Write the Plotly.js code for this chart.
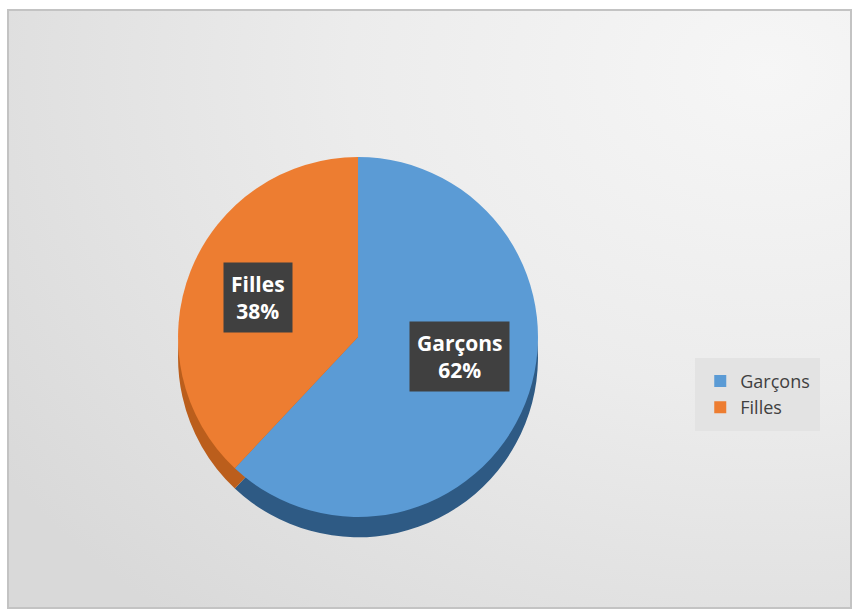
<!DOCTYPE html>
<html>
<head>
<meta charset="utf-8">
<script src="https://cdn.plot.ly/plotly-3.0.1.min.js"></script>
<style>
  html, body { margin: 0; padding: 0; background: #ffffff; width: 855px; height: 612px; overflow: hidden; }
  #frame { position: absolute; left: 7px; top: 9px; width: 841px; height: 596px;
           border: 2px solid #c3c3c3;
           background: radial-gradient(ellipse 110% 120% at 90% 10%, #f6f6f6 0%, #ececec 45%, #d9d9d9 100%); }
  #chart { width: 841px; height: 596px; }
</style>
</head>
<body>
<div id="frame"><div id="chart"></div></div>
<script>
const categories = ["Garçons", "Filles"];
const values = [62, 38];
const topColors = ["#5b9bd5", "#ed7d31"];
const sideColors = ["#2e5a84", "#bb5e1c"];

const total = values.reduce((a, b) => a + b, 0);
const labelText = categories.map((c, i) => "<b>" + c + "<br>" + Math.round(values[i] / total * 100) + "%</b>");

const sideTrace = {
  type: "pie", labels: categories, values: values, sort: false, direction: "clockwise", rotation: 0,
  marker: { colors: sideColors, line: { width: 0 } },
  textinfo: "none", hoverinfo: "skip", showlegend: false,
  domain: { x: [0.201, 0.629], y: [0.117, 0.721] }
};
const topTrace = {
  type: "pie", labels: categories, values: values, sort: false, direction: "clockwise", rotation: 0,
  marker: { colors: topColors, line: { width: 0 } },
  textinfo: "none", showlegend: true,
  domain: { x: [0.201, 0.629], y: [0.151, 0.755] }
};

const labelFont = { size: 21, color: "#ffffff", family: "Open Sans, Liberation Sans, sans-serif" };

const layout = {
  width: 841, height: 596,
  margin: { l: 0, r: 0, t: 0, b: 0 },
  paper_bgcolor: "rgba(0,0,0,0)",
  plot_bgcolor: "rgba(0,0,0,0)",
  font: { family: "Open Sans, Liberation Sans, sans-serif", color: "#404040" },
  showlegend: true,
  legend: {
    x: 0.816, y: 0.357, xanchor: "left", yanchor: "middle",
    bgcolor: "#e3e3e3", bordercolor: "#e3e3e3", borderwidth: 5,
    font: { size: 18, color: "#404040" },
    itemwidth: 30
  },
  annotations: [
    { xref: "paper", yref: "paper", x: 0.536, y: 0.421, xanchor: "center", yanchor: "middle",
      text: labelText[0], showarrow: false, font: labelFont, bgcolor: "#404040", borderpad: 7 },
    { xref: "paper", yref: "paper", x: 0.296, y: 0.520, xanchor: "center", yanchor: "middle",
      text: labelText[1], showarrow: false, font: labelFont, bgcolor: "#404040", borderpad: 7 }
  ]
};

Plotly.newPlot("chart", [sideTrace, topTrace], layout, { displayModeBar: false, staticPlot: true });
</script>
</body>
</html>
